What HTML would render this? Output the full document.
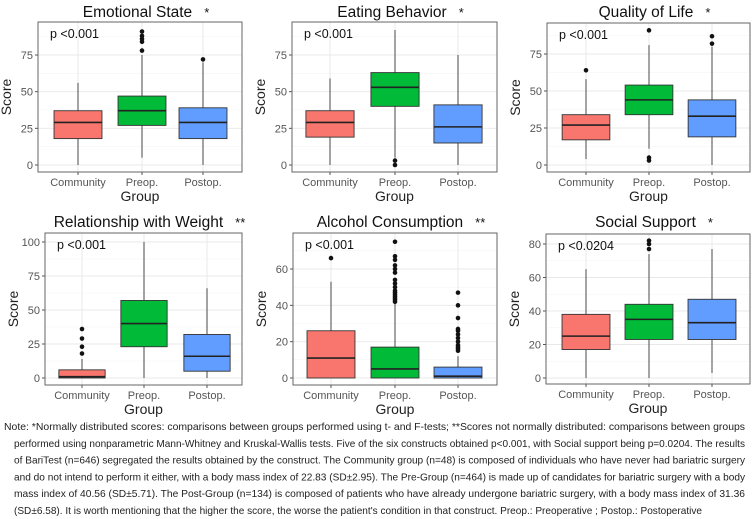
<!DOCTYPE html>
<html><head><meta charset="utf-8">
<style>
html,body{margin:0;padding:0;background:#fff;}
svg{display:block;font-family:"Liberation Sans",Arial,sans-serif;}
</style></head>
<body>
<svg id="chart" width="754" height="519" viewBox="0 0 754 519"></svg>
<script>
const groups = ["Community","Preop.","Postop."];
const colors = ["#F8766D","#00BA38","#619CFF"];
const titles = ["Emotional State","Eating Behavior","Quality of Life","Relationship with Weight","Alcohol Consumption","Social Support"];
const stars = ["*","*","*","**","**","*"];
const pvals = ["p <0.001","p <0.001","p <0.001","p <0.001","p <0.001","p <0.0204"];
const ticks1 = [0,25,50,75];
const ticks4 = [0,25,50,75,100];
const ticks5 = [0,20,40,60];
const ticks6 = [0,20,40,60,80];
// [min whisker, q1, median, q3, max whisker]
const emotionalStats = [[0,18,29,37,56],[5,27,37,47,75],[0,18,29,39,70]];
const emotionalOut = [[],[78,84,86,88,91],[72]];
const eatingStats = [[0,19,29,37,59],[5,40,53,63,92],[0,15,26,41,75]];
const eatingOut = [[],[0,3],[]];
const qolStats = [[4,17,27,34,58],[11,34,44,54,81],[0,19,33,44,80]];
const qolOut = [[64],[91,5,3],[82,87]];
const weightStats = [[0,0,1,6,14],[0,23,40,57,100],[0,5,16,32,66]];
const weightOut = [[18,23,29,36],[],[]];
const alcoholStats = [[0,0,11,26,53],[0,0,5,17,41],[0,0,1,6,12]];
const alcoholOut = [[66],[42,43,44,45,46,47,48,50,52,54,58,60,62,65,67,75],[15,16,17,18,20,22,24,26,27,33,40,47]];
const socialStats = [[0,17,25,38,65],[0,23,35,44,74],[3,23,33,47,77]];
const socialOut = [[],[77,80,82],[]];

const NS="http://www.w3.org/2000/svg";
const svg=document.getElementById('chart');
function mk(tag,attrs,parent,text){
  const e=document.createElementNS(NS,tag);
  for(const k in attrs) e.setAttribute(k,attrs[k]);
  if(text!==undefined) e.textContent=text;
  (parent||svg).appendChild(e); return e;
}
const panels=[
 {x0:38,x1:242,y0:22,y1:172,v0y:165,ref:75,refy:55,cx:[78,142,203],ticks:ticks1,stats:emotionalStats,out:emotionalOut,ty:12},
 {x0:292,x1:497,y0:22,y1:172,v0y:165,ref:75,refy:55,cx:[330,395,458],ticks:ticks1,stats:eatingStats,out:eatingOut,ty:12},
 {x0:547,x1:750,y0:23,y1:172,v0y:165,ref:75,refy:54,cx:[586,649,712],ticks:ticks1,stats:qolStats,out:qolOut,ty:12},
 {x0:45,x1:242,y0:233,y1:385,v0y:378,ref:100,refy:242,cx:[82,144,207],ticks:ticks4,stats:weightStats,out:weightOut,ty:222},
 {x0:293,x1:497,y0:233,y1:385,v0y:378,ref:60,refy:269,cx:[331,395,458],ticks:ticks5,stats:alcoholStats,out:alcoholOut,ty:222},
 {x0:546,x1:750,y0:234,y1:384,v0y:378,ref:80,refy:244,cx:[586,649,712],ticks:ticks6,stats:socialStats,out:socialOut,ty:222}
];
const keys=["emotional-state","eating-behavior","quality-of-life","relationship-with-weight","alcohol-consumption","social-support"];
panels.forEach((p,i)=>{
  const g=mk('g',{});
  
  
  const y=v=>p.v0y+(p.refy-p.v0y)*v/p.ref;
  const bw=(p.x1-p.x0)*0.235;
  const step=p.ticks[1]-p.ticks[0];
  for(let k=0;k<p.ticks.length;k++){
    const m=p.ticks[k]+step/2; const my=y(m);
    if(my>p.y0) mk('line',{x1:p.x0,x2:p.x1,y1:my,y2:my,stroke:'#f3f3f3','stroke-width':0.6},g);
  }
  p.ticks.forEach(t=>{
    const ty=y(t);
    const gl=mk('line',{x1:p.x0,x2:p.x1,y1:ty,y2:ty,stroke:'#e8e8e8','stroke-width':0.9},g);
    
    
    mk('line',{x1:p.x0-3,x2:p.x0,y1:ty,y2:ty,stroke:'#555','stroke-width':1},g);
    const tl=mk('text',{x:p.x0-5,y:ty+4,'text-anchor':'end','font-size':11,fill:'#555'},g,t);
    
    
  });
  p.cx.forEach(c=>mk('line',{x1:c,x2:c,y1:p.y0,y2:p.y1,stroke:'#e8e8e8','stroke-width':0.9},g));
  p.stats.forEach((s,j)=>{
    const c=p.cx[j];
    const wl=mk('line',{x1:c,x2:c,y1:y(s[0]),y2:y(s[4]),stroke:'#666','stroke-width':1.2},g);
    
    
    const r=mk('rect',{x:c-bw/2,y:y(s[3]),width:bw,height:Math.max(1,y(s[1])-y(s[3])),fill:colors[j],stroke:'#333','stroke-width':0.9},g);
    
    
    mk('line',{x1:c-bw/2,x2:c+bw/2,y1:y(s[2]),y2:y(s[2]),stroke:'#222','stroke-width':1.6},g);
    p.out[j].forEach(o=>{
      const d=mk('circle',{cx:c,cy:y(o),r:2.3,fill:'#111'},g);
      
      
    });
  });
  const fr=mk('rect',{x:p.x0,y:p.y0,width:p.x1-p.x0,height:p.y1-p.y0,fill:'none',stroke:'#666','stroke-width':1},g);
  
  
  p.cx.forEach((c,j)=>{
    mk('line',{x1:c,x2:c,y1:p.y1,y2:p.y1+3,stroke:'#555'},g);
    const xl=mk('text',{x:c,y:p.y1+14,'text-anchor':'middle','font-size':11,fill:'#555'},g,groups[j]);
    
    
  });
  const xt=mk('text',{x:(p.x0+p.x1)/2,y:p.y1+29,'text-anchor':'middle','font-size':14,fill:'#222'},g,'Group');
  
  
  const yx=p.x0-27, ym=(p.y0+p.y1)/2;
  const yt=mk('text',{x:yx,y:ym,'text-anchor':'middle','font-size':14,fill:'#222',transform:`rotate(-90 ${yx} ${ym})`},g,'Score');
  
  
  const pv=mk('text',{x:p.x0+12,y:p.y0+16,'font-size':12.5,fill:'#111'},g,pvals[i]);
  
  
  const tt=mk('text',{x:(p.x0+p.x1)/2+6,y:p.ty+5,'text-anchor':'middle','font-size':15.5,fill:'#111'},g);
  
  
  mk('tspan',{},tt,titles[i]);
  const st=mk('tspan',{dx:12,'font-size':13},tt,stars[i]);
  
  
});
const noteLines=[
 "Note: *Normally distributed scores: comparisons between groups performed using t- and F-tests; **Scores not normally distributed: comparisons between groups",
 "performed using nonparametric Mann-Whitney and Kruskal-Wallis tests. Five of the six constructs obtained p<0.001, with Social support being p=0.0204. The results",
 "of BariTest (n=646) segregated the results obtained by the construct. The Community group (n=48) is composed of individuals who have never had bariatric surgery",
 "and do not intend to perform it either, with a body mass index of 22.83 (SD\u00b12.95). The Pre-Group (n=464) is made up of candidates for bariatric surgery with a body",
 "mass index of 40.56 (SD\u00b15.71). The Post-Group (n=134) is composed of patients who have already undergone bariatric surgery, with a body mass index of 31.36",
 "(SD\u00b16.58). It is worth mentioning that the higher the score, the worse the patient's condition in that construct. Preop.: Preoperative ; Postop.: Postoperative"
];
const ng=mk('g',{});


noteLines.forEach((t,k)=>{
  const x=k===0?4:14;
  const a={x:x,y:430+k*16.8,'font-size':10.5,fill:'#222'};
  a.textLength=(k<5?745:702)-x;
  a.lengthAdjust='spacingAndGlyphs';
  mk('text',a,ng,t);
});
</script>
</body></html>
